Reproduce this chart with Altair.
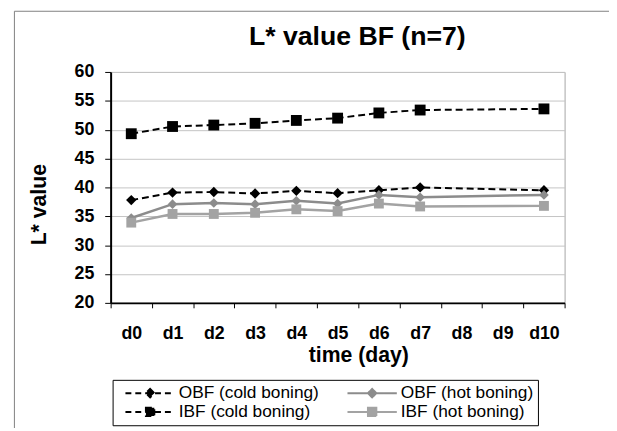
import altair as alt
import pandas as pd

days = ["d0", "d1", "d2", "d3", "d4", "d5", "d6", "d7", "d8", "d9", "d10"]
measured_days = ["d0", "d1", "d2", "d3", "d4", "d5", "d6", "d7", "d10"]
series_names = ["OBF (cold boning)", "OBF (hot boning)", "IBF (cold boning)", "IBF (hot boning)"]
legend_order = ["OBF (cold boning)", "IBF (cold boning)", "OBF (hot boning)", "IBF (hot boning)"]
obf_cold = [37.8, 39.1, 39.2, 38.95, 39.4, 39.0, 39.5, 40.0, 39.5]
obf_hot = [34.7, 37.1, 37.3, 37.1, 37.7, 37.2, 38.7, 38.3, 38.7]
ibf_cold = [49.3, 50.55, 50.8, 51.1, 51.6, 52.0, 52.9, 53.4, 53.6]
ibf_hot = [33.9, 35.4, 35.4, 35.6, 36.2, 35.9, 37.2, 36.7, 36.8]
y_ticks = [20, 25, 30, 35, 40, 45, 50, 55, 60]

values = {
    "OBF (cold boning)": obf_cold,
    "OBF (hot boning)": obf_hot,
    "IBF (cold boning)": ibf_cold,
    "IBF (hot boning)": ibf_hot,
}
rows = []
for name in series_names:
    for d, v in zip(measured_days, values[name]):
        rows.append({"series": name, "day": d, "value": v})
df = pd.DataFrame(rows)

colors = {
    "OBF (cold boning)": "#000000",
    "OBF (hot boning)": "#8c8c8c",
    "IBF (cold boning)": "#000000",
    "IBF (hot boning)": "#a3a3a3",
}
FONT = "Liberation Sans"

x_axis = alt.Axis(
    title="time (day)", tickBand="extent", labelAngle=0, labelOverlap=False,
    labelFontSize=18, labelFontWeight="bold", labelBaseline="alphabetic", labelPadding=31,
    tickSize=5, domainWidth=2, grid=False,
    titleFontSize=21.5, titleFontWeight="bold", titleX=251, titleY=59,
    titleBaseline="alphabetic", titleAlign="center",
)
y_axis = alt.Axis(
    title="L* value", values=y_ticks, labelFlush=False, labelOverlap=False,
    labelFontSize=18, labelFontWeight="bold", labelPadding=11,
    tickSize=6, domainWidth=2, grid=True, gridColor="#c4c4c4",
    titleFontSize=21.5, titleFontWeight="bold", titleAngle=270, titleX=-72, titleY=134,
    titleBaseline="middle", titleAlign="center",
)
x_enc = alt.X("day:N", scale=alt.Scale(type="band", domain=days, paddingInner=0, paddingOuter=0), axis=x_axis)
y_enc = alt.Y("value:Q", scale=alt.Scale(domain=[20, 60], nice=False, zero=False), axis=y_axis)

layers = []
# outer frame (decoration)
one = alt.Data(values=[{}])
layers.append(alt.Chart(one).mark_rule(color="#808080", strokeWidth=1).encode(
    x=alt.value(-97.5), y=alt.value(-61.5), y2=alt.value(400)))
layers.append(alt.Chart(one).mark_rule(color="#808080", strokeWidth=1).encode(
    x=alt.value(-97.5), x2=alt.value(520), y=alt.value(-61.5)))

for name in series_names:
    base = alt.Chart(df).transform_filter(alt.datum.series == name)
    cold = "cold" in name
    if cold:
        line = base.mark_line(color=colors[name], strokeWidth=2, strokeDash=[7, 4])
    else:
        line = base.mark_line(color=colors[name], strokeWidth=2.5)
    layers.append(line.encode(x=x_enc, y=y_enc))
    if name.startswith("OBF"):
        pt = base.mark_point(filled=True, shape="diamond", size=110 if cold else 95,
                             color=colors[name], opacity=1)
    else:
        pt = base.mark_point(filled=True, shape="square", size=121 if cold else 100,
                             color=colors[name], opacity=1)
    layers.append(pt.encode(x=x_enc, y=y_enc))

# legend built from the scales of a hidden layer
diamond = "M-1,0L1,0M0,-0.17L0.17,0L0,0.17L-0.17,0Z"
square = "M-1,0L1,0M-0.17,-0.17L0.17,-0.17L0.17,0.17L-0.17,0.17Z"
shape_of = {n: (diamond if n.startswith("OBF") else square) for n in series_names}
dash_of = {n: ([6, 4] if "cold" in n else [1, 0]) for n in series_names}
leg = alt.Legend(
    title=None, orient="none", legendX=2, legendY=312, columns=2, gridAlign="all",
    symbolSize=2500, symbolStrokeWidth=2, clipHeight=19, rowPadding=0, columnPadding=19,
    padding=4, labelOffset=3, symbolOffset=8, labelFont=FONT, labelFontSize=17.5,
    labelColor="black", labelLimit=300, strokeColor="black", fillColor="white",
)
legend_df = pd.DataFrame({"key": legend_order})
legend_layer = alt.Chart(legend_df).transform_filter("false").mark_point(
    filled=True, strokeWidth=2, opacity=1).encode(
    fill=alt.Fill("key:N", scale=alt.Scale(domain=legend_order, range=[colors[n] for n in legend_order]), legend=leg),
    stroke=alt.Stroke("key:N", scale=alt.Scale(domain=legend_order, range=[colors[n] for n in legend_order]), legend=leg),
    shape=alt.Shape("key:N", scale=alt.Scale(domain=legend_order, range=[shape_of[n] for n in legend_order]), legend=leg),
    strokeDash=alt.StrokeDash("key:N", scale=alt.Scale(domain=legend_order, range=[dash_of[n] for n in legend_order]), legend=leg),
)
layers.append(legend_layer)

chart = alt.layer(*layers).properties(
    width=460, height=234,
    padding={"left": 104, "top": 62, "right": 45, "bottom": 124},
    autosize=alt.AutoSizeParams(type="none"),
    background="white",
    title=alt.TitleParams(text="L* value BF (n=7)", font=FONT, fontSize=27, fontWeight="bold",
                          color="black", anchor="middle", dx=20, offset=-62, baseline="alphabetic"),
).configure_view(stroke="#a6a6a6", strokeWidth=1).configure_axis(
    domainColor="black", tickColor="black", labelColor="black", titleColor="black",
    labelFont=FONT, titleFont=FONT,
)

chart.save("out.html", embed_options={"renderer": "svg", "actions": False})
